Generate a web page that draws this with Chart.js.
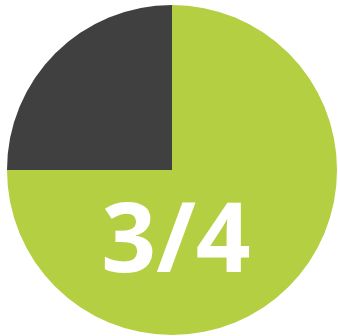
<!DOCTYPE html>
<html><head><meta charset="utf-8">
<script src="https://cdn.jsdelivr.net/npm/chart.js@4"></script>
<style>html,body{margin:0;padding:0;background:#fff;}#c{display:block;}</style>
</head><body>
<canvas id="c" width="338" height="336"></canvas>
<script>
const categories = ["Filled", "Remaining"];
const values = [3, 1];
const label = "3/4";
const colors = ["#b5cf43", "#404040"];

const centerText = {
  id: 'centerText',
  afterDraw(chart) {
    const ctx = chart.ctx;
    ctx.save();
    ctx.fillStyle = '#ffffff';
    ctx.font = 'bold 96px "Open Sans"';
    ctx.textAlign = 'center';
    ctx.textBaseline = 'alphabetic';
    ctx.fillText(label, 176, 272);
    ctx.restore();
  }
};

new Chart(document.getElementById('c'), {
  type: 'pie',
  data: { labels: categories, datasets: [{ data: values, backgroundColor: colors, borderWidth: 0 }] },
  options: {
    responsive: false, animation: false,
    layout: { padding: { left: 7, right: 1, top: 5, bottom: 1 } },
    plugins: { legend: { display: false }, tooltip: { enabled: false } }
  },
  plugins: [centerText]
});
</script>
</body></html>
